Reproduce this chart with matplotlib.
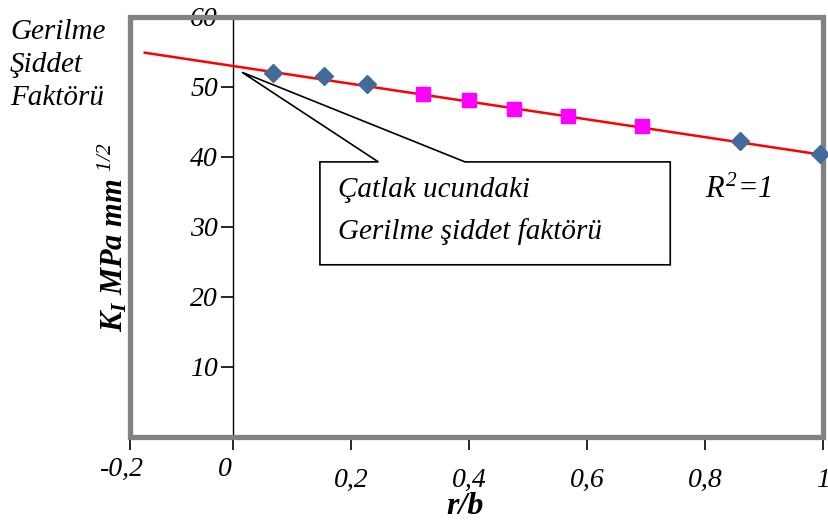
import matplotlib
matplotlib.use('Agg')
import matplotlib.pyplot as plt
from matplotlib.patches import Rectangle, Polygon
from matplotlib.transforms import ScaledTranslation

plt.rcParams['font.family'] = ['Liberation Serif', 'DejaVu Serif']
plt.rcParams['mathtext.fontset'] = 'custom'
plt.rcParams['mathtext.rm'] = 'Liberation Serif:italic'
plt.rcParams['mathtext.it'] = 'Liberation Serif:italic'
plt.rcParams['mathtext.bf'] = 'Liberation Serif:bold:italic'
plt.rcParams['mathtext.default'] = 'it'

# data
diamond_x = [0.068, 0.154, 0.227, 0.859, 0.995]
diamond_y = [52.0, 51.6, 50.4, 42.3, 40.4]
square_x = [0.322, 0.400, 0.476, 0.568, 0.693]
square_y = [49.0, 48.1, 46.9, 45.9, 44.4]
trend_x = [-0.15, 1.0]
trend_y = [54.9, 40.3]

xtick_pos = [-0.175, 0, 0.2, 0.4, 0.6, 0.8, 1.0]
xtick_lab = ['-0,2', '0', '0,2', '0,4', '0,6', '0,8', '1']
ytick_pos = [10, 20, 30, 40, 50, 60]
ytick_lab = ['10', '20', '30', '40', '50', '60']

fig = plt.figure(figsize=(8.29, 5.27), dpi=100)
ax = fig.add_axes([130/829, 1-437/527, 693/829, 420/527])
ax.set_xlim(-0.175, 1.0)
ax.set_ylim(0, 60)

ax.plot(trend_x, trend_y, color='red', lw=1.8, zorder=3, clip_on=False)
ax.plot(diamond_x, diamond_y, 'D', color='#426a9a', ms=9.5, zorder=4, clip_on=False)
ax.plot(square_x, square_y, 's', color='#ff00ff', ms=10.5, zorder=4, clip_on=False)

# y axis drawn at x=0
for s in ['top', 'right', 'bottom']:
    ax.spines[s].set_visible(False)
ax.spines['left'].set_position(('data', 0))
ax.spines['left'].set_linewidth(1)
ax.spines['left'].set_zorder(2)

frame = Rectangle((0, 0), 1, 1, transform=ax.transAxes, fill=False,
                  edgecolor='#828282', lw=3.8, clip_on=False, zorder=2.5)
ax.add_patch(frame)

ax.set_xticks(xtick_pos)
ax.set_xticklabels(xtick_lab, fontsize=20, style='italic')
ax.set_yticks(ytick_pos)
ax.set_yticklabels(ytick_lab, fontsize=20, style='italic')
ax.tick_params(axis='x', direction='out', length=9, width=1.2, pad=13)
ax.tick_params(axis='y', direction='out', length=9, width=1.2, pad=2)
for lab in ax.get_xticklabels()[:2]:
    lab.set_transform(lab.get_transform() + ScaledTranslation(-0.08, 0.11, fig.dpi_scale_trans))

# callout box
callout = [(0.147, 39.3), (0.246, 39.3), (0.015, 52.1), (0.393, 39.3),
           (0.741, 39.3), (0.741, 24.6), (0.147, 24.6)]
ax.add_patch(Polygon(callout, closed=True, facecolor='white', edgecolor='black',
                     lw=1.2, zorder=3.5))
ax.text(0.178, 35.3, 'Çatlak ucundaki', fontsize=21, style='italic', va='center', zorder=5)
ax.text(0.178, 29.3, 'Gerilme şiddet faktörü', fontsize=21, style='italic', va='center', zorder=5)

ax.text(0.80, 35.3, r'$R^{2}$=1', fontsize=22, style='italic', va='center')

fig.text(10/829, 1-32/527, 'Gerilme', fontsize=21, style='italic', va='center')
fig.text(10/829, 1-65/527, 'Şiddet', fontsize=21, style='italic', va='center')
fig.text(10/829, 1-98/527, 'Faktörü', fontsize=21, style='italic', va='center')

fig.text(113/829, 1-237/527, r'$\mathbf{K_I\ MPa\ mm}\ ^{1/2}$', fontsize=22,
         rotation=90, ha='center', va='center')
fig.text(465/829, 1-506/527, 'r/b', fontsize=23, style='italic', weight='bold',
         ha='center', va='center')

fig.savefig('out.png', dpi=100)
